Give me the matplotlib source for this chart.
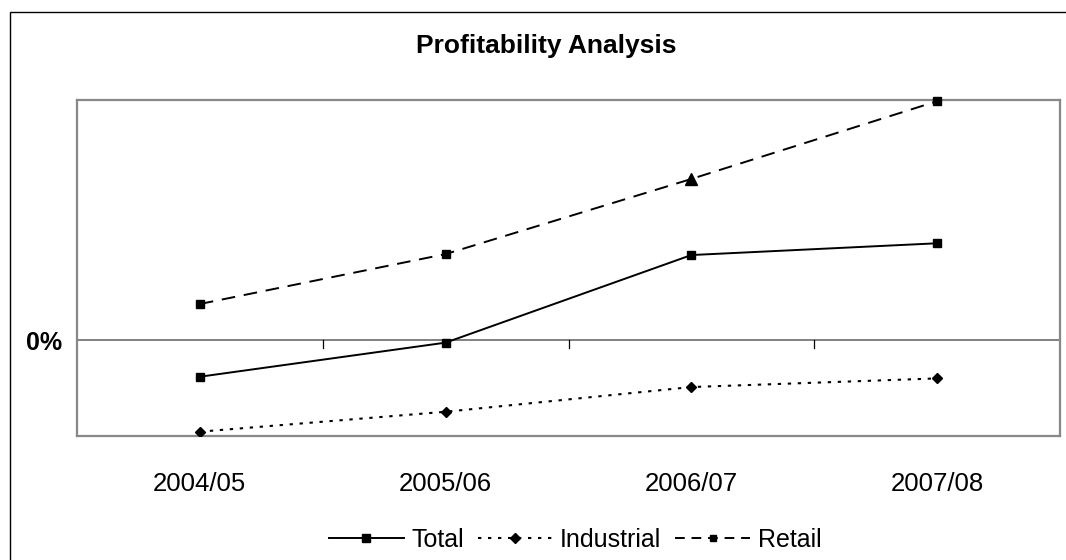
import matplotlib.pyplot as plt
import matplotlib.patches as patches
import numpy as np

plt.rcParams['font.family'] = ['Liberation Sans', 'DejaVu Sans']

# data (in %, only 0% axis label shown)
years = ["2004/05", "2005/06", "2006/07", "2007/08"]
total = [-1.53, -0.11, 3.54, 4.03]
industrial = [-3.82, -2.99, -1.96, -1.6]
retail = [1.5, 3.58, 6.71, 9.95]

x = np.arange(len(years))

fig = plt.figure(figsize=(10.66, 5.6), dpi=100)
ax = fig.add_axes([77/1066, 1 - 436/560, (1060 - 77)/1066, (436 - 100)/560])

# outer chart frame (only left and top edges are in view)
fig.add_artist(patches.Rectangle((10/1066, -0.1), 1.2, 1 - 12/560 + 0.1,
                                 transform=fig.transFigure, fill=False,
                                 edgecolor='black', linewidth=1.0, clip_on=False))

ax.axhline(0, color='#777777', linewidth=1.3, zorder=1)
for b in x[1:] - 0.5:
    ax.plot([b, b], [0, -0.33], color='black', linewidth=0.9, zorder=1)

ax.plot(x, total, color='black', linewidth=1.4, marker='s', markersize=6,
        label='Total', zorder=3)
ax.plot(x, industrial, color='black', linewidth=1.5, linestyle=(0, (1.6, 3.2)),
        marker='D', markersize=5, label='Industrial', zorder=3)
ax.plot(x, retail, color='black', linewidth=1.4, linestyle=(0, (7, 4.5)),
        zorder=3)
# retail markers: squares, with a triangle at 2006/07
sq = [0, 1, 3]
ax.plot(x[sq], np.array(retail)[sq], linestyle='none', marker='s',
        markersize=6, color='black', zorder=4, clip_on=False)
ax.plot(x[2], retail[2], linestyle='none', marker='^', markersize=8,
        color='black', zorder=4)
# legend proxy for retail
ax.plot([], [], color='black', linewidth=1.4, linestyle=(0, (5, 3.5)),
        marker='s', markersize=5, label='Retail')

ax.set_xlim(-0.5, 3.5)
ax.set_ylim(-4, 10)
ax.set_xticks(x)
ax.set_xticklabels(years, fontsize=18.5)
ax.tick_params(axis='x', length=0, pad=26)
ax.set_yticks([0])
ax.set_yticklabels(['0%'], fontsize=18, fontweight='bold')
ax.tick_params(axis='y', length=0, pad=11)

for s in ax.spines.values():
    s.set_color('#888888')
    s.set_linewidth(1.6)

fig.text(546/1066, 1 - 46/560, "Profitability Analysis", ha='center',
         va='center', fontsize=19, fontweight='bold')

fig.legend(loc='center', bbox_to_anchor=(575/1066, 1 - 540/560), ncol=3,
           frameon=False, fontsize=18, handlelength=3.0, handletextpad=0.3,
           columnspacing=0.55, borderpad=0)

fig.savefig('out.png', dpi=100)
